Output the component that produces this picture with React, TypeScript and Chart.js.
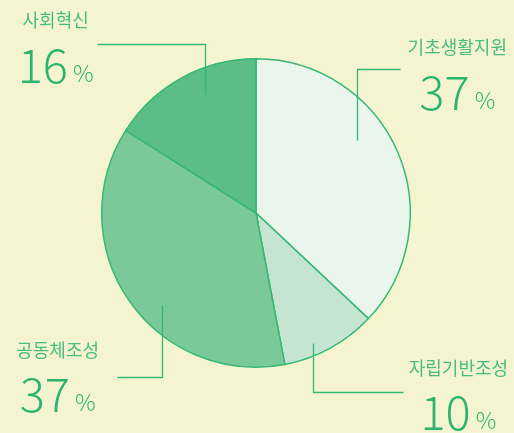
import React, { useEffect, useRef } from "react";
import { Chart, registerables } from "chart.js";

Chart.register(...registerables);

const categories = ["기초생활지원", "자립기반조성", "공동체조성", "사회혁신"];
const values = [37, 10, 37, 16];
const percentLabels = ["37", "10", "37", "16"];
const sliceColors = ["#eaf5ec", "#c6e5d1", "#7bc899", "#5bbe86"];

// leader line paths and label anchors, in units of the pie radius relative to its centre
const leaderPaths: number[][][] = [
  [[0.656, -0.474], [0.656, -0.935], [0.935, -0.935]],
  [[0.37, 0.844], [0.37, 1.162], [0.955, 1.162]],
  [[-0.61, 0.597], [-0.61, 1.065], [-0.903, 1.065]],
  [[-0.331, -0.773], [-0.331, -1.097], [-1.032, -1.097]],
];
// [centre x, name centre y, number baseline y]
const labelAnchors: number[][] = [
  [1.305, -1.078, -0.669],
  [1.312, 1.006, 1.409],
  [-1.286, 0.89, 1.292],
  [-1.299, -1.247, -0.844],
];

const BG = "#f4f5d0";
const LINE = "#35b874";
const NAME_COLOR = "#49bc7f";
const NUM_COLOR = "#2cb46f";
const FONT = '"Noto Sans CJK KR", "Noto Sans", sans-serif';

const labelPlugin = {
  id: "leaderLabels",
  afterDatasetsDraw(chart: any) {
    const meta = chart.getDatasetMeta(0);
    const arc = meta.data[0];
    if (!arc) return;
    const cx = arc.x;
    const cy = arc.y;
    const R = arc.outerRadius;
    const ctx = chart.ctx;
    ctx.save();
    ctx.strokeStyle = LINE;
    ctx.lineWidth = 1.3;
    leaderPaths.forEach((path) => {
      ctx.beginPath();
      path.forEach((p, i) => {
        const x = Math.round(cx + p[0] * R) + 0.5;
        const y = Math.round(cy + p[1] * R) + 0.5;
        if (i === 0) ctx.moveTo(x, y);
        else ctx.lineTo(x, y);
      });
      ctx.stroke();
    });
    categories.forEach((name, i) => {
      const a = labelAnchors[i];
      const x = cx + a[0] * R;
      ctx.fillStyle = NAME_COLOR;
      ctx.font = `400 18px ${FONT}`;
      ctx.textAlign = "center";
      ctx.textBaseline = "middle";
      ctx.fillText(name, x, cy + a[1] * R);
      // number + %
      const numFont = `300 47px ${FONT}`;
      const pctFont = `300 23px ${FONT}`;
      ctx.font = numFont;
      const nw = ctx.measureText(percentLabels[i]).width;
      ctx.font = pctFont;
      const pw = ctx.measureText("%").width;
      const gap = 5;
      const total = nw + gap + pw;
      const left = x - total / 2;
      const by = cy + a[2] * R;
      ctx.textAlign = "left";
      ctx.textBaseline = "alphabetic";
      ctx.fillStyle = NUM_COLOR;
      ctx.font = numFont;
      ctx.fillText(percentLabels[i], left, by);
      ctx.font = pctFont;
      ctx.fillText("%", left + nw + gap, by - 1);
    });
    ctx.restore();
  },
};

export default function App() {
  const ref = useRef<HTMLCanvasElement>(null);
  useEffect(() => {
    document.body.style.margin = "0";
    document.body.style.background = BG;
    const chart = new Chart(ref.current!, {
      type: "pie",
      data: {
        labels: categories,
        datasets: [
          {
            data: values,
            backgroundColor: sliceColors,
            borderColor: LINE,
            borderWidth: 1.5,
          },
        ],
      },
      options: {
        responsive: false,
        animation: false,
        layout: { padding: { top: 58, bottom: 65, left: 0, right: 2 } },
        plugins: { legend: { display: false }, tooltip: { enabled: false } },
      },
      plugins: [labelPlugin],
    });
    return () => chart.destroy();
  }, []);
  return (
    <div style={{ position: "fixed", left: 0, top: 0, width: 514, height: 433, background: BG }}>
      <canvas ref={ref} width={514} height={433} style={{ width: 514, height: 433, display: "block" }} />
    </div>
  );
}
